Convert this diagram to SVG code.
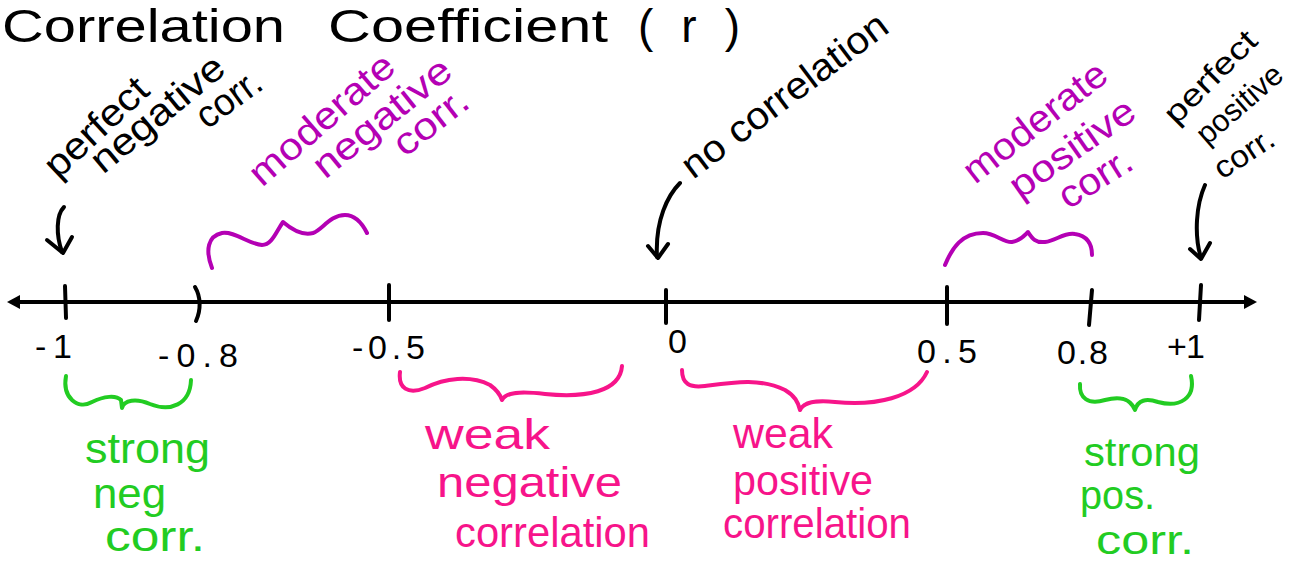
<svg xmlns="http://www.w3.org/2000/svg" width="1301" height="563" viewBox="0 0 1301 563">
<style>
text{font-family:"Liberation Sans",Arial,sans-serif;}
.blk{fill:#000;}
.mag{fill:#b400b4;}
.pnk{fill:#f7148a;}
.grn{fill:#22cc22;}
.lbl{font-size:38px;}
.bot{font-size:42px;}
.num{font-size:34px;}
.ln{fill:none;stroke-linecap:round;stroke-linejoin:round;stroke-width:4;}
.k{stroke:#000;}
.m{stroke:#b400b4;}
.p{stroke:#f7148a;}
.g{stroke:#22cc22;}
</style>
<rect width="1301" height="563" fill="#fff"/>
<g id="title">
<text class="blk" font-size="46" x="2" y="42" textLength="283" lengthAdjust="spacingAndGlyphs">Correlation</text>
<text class="blk" font-size="46" x="328" y="42" textLength="280" lengthAdjust="spacingAndGlyphs">Coefficient</text>
<text class="blk" font-size="46" x="638" y="42" textLength="102" lengthAdjust="spacing">(r)</text>
</g>
<g id="axis">
<path class="ln k" d="M16,302 L1248,302"/>
<path d="M7,302 L20,295 L20,309 Z" fill="#000"/>
<path d="M1257,302 L1244,295 L1244,309 Z" fill="#000"/>
<path class="ln k" d="M65,286 L66,318"/>
<path class="ln k" d="M195,287 C201,297 201,310 196,321"/>
<path class="ln k" d="M389,285 L389,320"/>
<path class="ln k" d="M666,290 L666,323"/>
<path class="ln k" d="M947,287 L947,324"/>
<path class="ln k" d="M1092,290 L1089,325"/>
<path class="ln k" d="M1201,285 L1199,320"/>
</g>
<g id="tick-labels">
<text class="blk num" x="35" y="358" textLength="37" lengthAdjust="spacing">-1</text>
<text class="blk num" x="158" y="367" textLength="80" lengthAdjust="spacing">-0.8</text>
<text class="blk num" x="352" y="359" textLength="73" lengthAdjust="spacing">-0.5</text>
<text class="blk num" x="668" y="353">0</text>
<text class="blk num" x="917" y="363" textLength="60" lengthAdjust="spacing">0.5</text>
<text class="blk num" x="1057" y="364" textLength="51" lengthAdjust="spacing">0.8</text>
<text class="blk num" x="1167" y="358" textLength="38" lengthAdjust="spacing">+1</text>
</g>
<g id="perfect-negative">
<text class="blk lbl" transform="translate(58,180) rotate(-43)" textLength="128" lengthAdjust="spacingAndGlyphs">perfect</text>
<text class="blk lbl" transform="translate(103,175) rotate(-39.5)" textLength="162" lengthAdjust="spacingAndGlyphs">negative</text>
<text class="blk lbl" transform="translate(207,130) rotate(-36)" textLength="72" lengthAdjust="spacingAndGlyphs">corr.</text>
</g>
<g id="moderate-negative">
<text class="mag lbl" transform="translate(262,188) rotate(-41)" textLength="180" lengthAdjust="spacingAndGlyphs">moderate</text>
<text class="mag lbl" transform="translate(325,180) rotate(-39)" textLength="167" lengthAdjust="spacingAndGlyphs">negative</text>
<text class="mag lbl" transform="translate(405,158) rotate(-38)" textLength="85" lengthAdjust="spacingAndGlyphs">corr.</text>
</g>
<g id="no-correlation">
<text class="blk lbl" transform="translate(693,180) rotate(-37)" textLength="248" lengthAdjust="spacingAndGlyphs">no correlation</text>
</g>
<g id="moderate-positive">
<text class="mag lbl" transform="translate(975,185) rotate(-38)" textLength="172" lengthAdjust="spacingAndGlyphs">moderate</text>
<text class="mag lbl" transform="translate(1020,200) rotate(-35)" textLength="145" lengthAdjust="spacingAndGlyphs">positive</text>
<text class="mag lbl" transform="translate(1068,210) rotate(-32)" textLength="80" lengthAdjust="spacingAndGlyphs">corr.</text>
</g>
<g id="perfect-positive">
<text class="blk" font-size="31" transform="translate(1176,126) rotate(-45)" textLength="118" lengthAdjust="spacingAndGlyphs">perfect</text>
<text class="blk" font-size="31" transform="translate(1207,146) rotate(-41)" textLength="104" lengthAdjust="spacingAndGlyphs">positive</text>
<text class="blk" font-size="31" transform="translate(1222,180) rotate(-33)" textLength="66" lengthAdjust="spacingAndGlyphs">corr.</text>
</g>
<g id="strong-negative">
<text class="grn bot" x="85" y="463" textLength="125" lengthAdjust="spacingAndGlyphs">strong</text>
<text class="grn bot" x="93" y="508" textLength="73" lengthAdjust="spacingAndGlyphs">neg</text>
<text class="grn bot" x="105" y="551" textLength="100" lengthAdjust="spacingAndGlyphs">corr.</text>
</g>
<g id="weak-negative">
<text class="pnk bot" x="425" y="449" textLength="125" lengthAdjust="spacingAndGlyphs">weak</text>
<text class="pnk bot" x="437" y="497" textLength="185" lengthAdjust="spacingAndGlyphs">negative</text>
<text class="pnk bot" x="455" y="547" textLength="195" lengthAdjust="spacingAndGlyphs">correlation</text>
</g>
<g id="weak-positive">
<text class="pnk bot" x="733" y="448" textLength="100" lengthAdjust="spacingAndGlyphs">weak</text>
<text class="pnk bot" x="733" y="495" textLength="140" lengthAdjust="spacingAndGlyphs">positive</text>
<text class="pnk bot" x="723" y="538" textLength="188" lengthAdjust="spacingAndGlyphs">correlation</text>
</g>
<g id="strong-positive">
<text class="grn" font-size="40" x="1084" y="466" textLength="116" lengthAdjust="spacingAndGlyphs">strong</text>
<text class="grn" font-size="40" x="1080" y="509" textLength="75" lengthAdjust="spacingAndGlyphs">pos.</text>
<text class="grn" font-size="40" x="1096" y="554" textLength="98" lengthAdjust="spacingAndGlyphs">corr.</text>
</g>
<g id="connectors">
<path class="ln k" d="M64,207 C56,215 56,235 62,252"/>
<path class="ln k" d="M47,240 L63,253 L72,237"/>
<path class="ln k" d="M680,183 C668,195 655,220 657,257"/>
<path class="ln k" d="M648,246 L658,258 L668,244"/>
<path class="ln k" d="M1205,185 C1196,205 1194,235 1201,258"/>
<path class="ln k" d="M1190,249 L1201,259 L1210,243"/>
<path class="ln m" d="M212,268 C205,250 208,236 222,233 C235,231 248,244 262,245 C272,245 276,232 283,222 C290,228 302,236 313,233 C322,230 330,215 345,215 C356,215 363,225 367,233"/>
<path class="ln m" d="M945,265 C952,248 962,233 983,233 C995,233 1004,243 1012,242 C1020,241 1024,236 1028,232 C1032,238 1035,243 1045,242 C1056,241 1064,232 1075,234 C1088,236 1092,245 1092,255"/>
<path class="ln g" d="M66,376 C62,398 78,410 92,402 C104,396 116,395 121,400 L122,408 C124,400 136,398 150,404 C170,412 190,405 191,380"/>
<path class="ln p" d="M400,372 C398,388 408,395 425,388 C445,378 470,375 490,385 C497,390 500,394 502,400 C506,392 520,391 545,394 C585,398 620,392 622,366"/>
<path class="ln p" d="M682,370 C682,384 690,388 705,386 C735,382 760,378 785,390 C795,396 798,402 800,410 C804,402 815,400 835,402 C875,406 915,398 927,372"/>
<path class="ln g" d="M1080,384 C1079,398 1088,405 1105,400 C1120,396 1130,398 1135,410 C1138,400 1146,398 1158,402 C1180,408 1196,398 1191,376"/>
</g>
</svg>
